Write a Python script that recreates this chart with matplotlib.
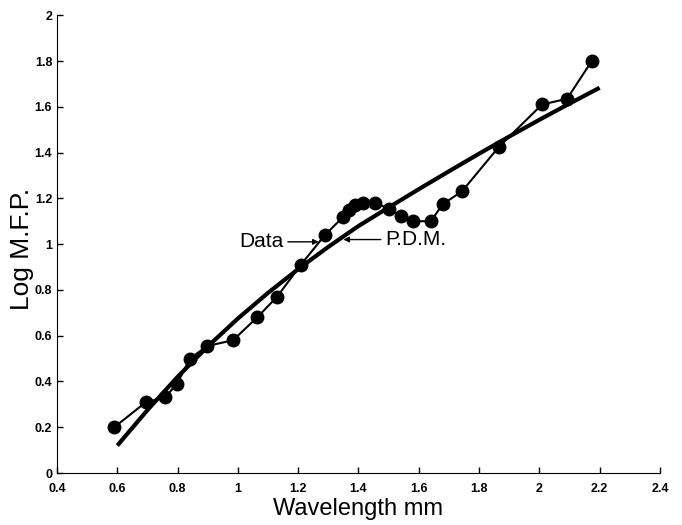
import matplotlib
matplotlib.use('Agg')
import matplotlib.pyplot as plt

# measured data (wavelength mm, log mean free path)
wavelength = [0.59, 0.695, 0.758, 0.798, 0.841, 0.898, 0.984, 1.064, 1.13, 1.209,
              1.289, 1.35, 1.37, 1.39, 1.415, 1.455, 1.50, 1.54, 1.58, 1.64,
              1.68, 1.743, 1.866, 2.009, 2.092, 2.174]
log_mfp = [0.20, 0.31, 0.33, 0.39, 0.50, 0.555, 0.58, 0.68, 0.77, 0.91,
           1.04, 1.12, 1.15, 1.17, 1.18, 1.18, 1.155, 1.125, 1.10, 1.10,
           1.175, 1.23, 1.425, 1.61, 1.635, 1.80]

# P.D.M. curve
pdm_x = [0.6, 0.7, 0.8, 0.9, 1.0, 1.1, 1.2, 1.3, 1.4, 1.5, 1.6, 1.7, 1.8, 1.9, 2.0, 2.1, 2.2]
pdm_y = [0.12, 0.275, 0.42, 0.553, 0.675, 0.787, 0.891, 0.988, 1.079, 1.16,
         1.24, 1.318, 1.395, 1.47, 1.543, 1.614, 1.683]

xticks = [0.4, 0.6, 0.8, 1, 1.2, 1.4, 1.6, 1.8, 2, 2.2, 2.4]
yticks = [0, 0.2, 0.4, 0.6, 0.8, 1, 1.2, 1.4, 1.6, 1.8, 2]

plt.rcParams['font.family'] = ['Liberation Sans', 'DejaVu Sans']

fig = plt.figure(figsize=(6.82, 5.25), dpi=100)
ax = fig.add_axes([0.0836, 0.099, 0.884, 0.872])

ax.plot(wavelength, log_mfp, color='black', linewidth=1.5, marker='o', markersize=9)
ax.plot(pdm_x, pdm_y, color='black', linewidth=3, solid_capstyle='butt')

arrow = dict(arrowstyle='-|>', color='black', lw=1, mutation_scale=8, shrinkA=1, shrinkB=0)
ax.annotate('Data', xy=(1.268, 1.01), xytext=(1.152, 1.01),
            fontsize=15, va='center', ha='right', arrowprops=arrow)
ax.annotate('P.D.M.', xy=(1.35, 1.02), xytext=(1.488, 1.02),
            fontsize=15, va='center', ha='left', arrowprops=arrow)

ax.set_xlim(0.4, 2.4)
ax.set_ylim(0, 2)
ax.set_xticks(xticks)
ax.set_xticklabels([f'{t:g}' for t in xticks])
ax.set_yticks(yticks)
ax.set_yticklabels([f'{t:g}' for t in yticks])
ax.tick_params(direction='in', length=4, width=1, labelsize=9)
ax.tick_params(axis='x', pad=7)
for lab in ax.get_xticklabels() + ax.get_yticklabels():
    lab.set_fontweight('bold')

ax.spines['top'].set_visible(False)
ax.spines['right'].set_visible(False)

ax.set_xlabel('Wavelength mm', fontsize=17, labelpad=2)
ax.set_ylabel('Log M.F.P.', fontsize=19)
ax.yaxis.set_label_coords(-0.038, 0.49)

fig.savefig('out.png', dpi=100)
